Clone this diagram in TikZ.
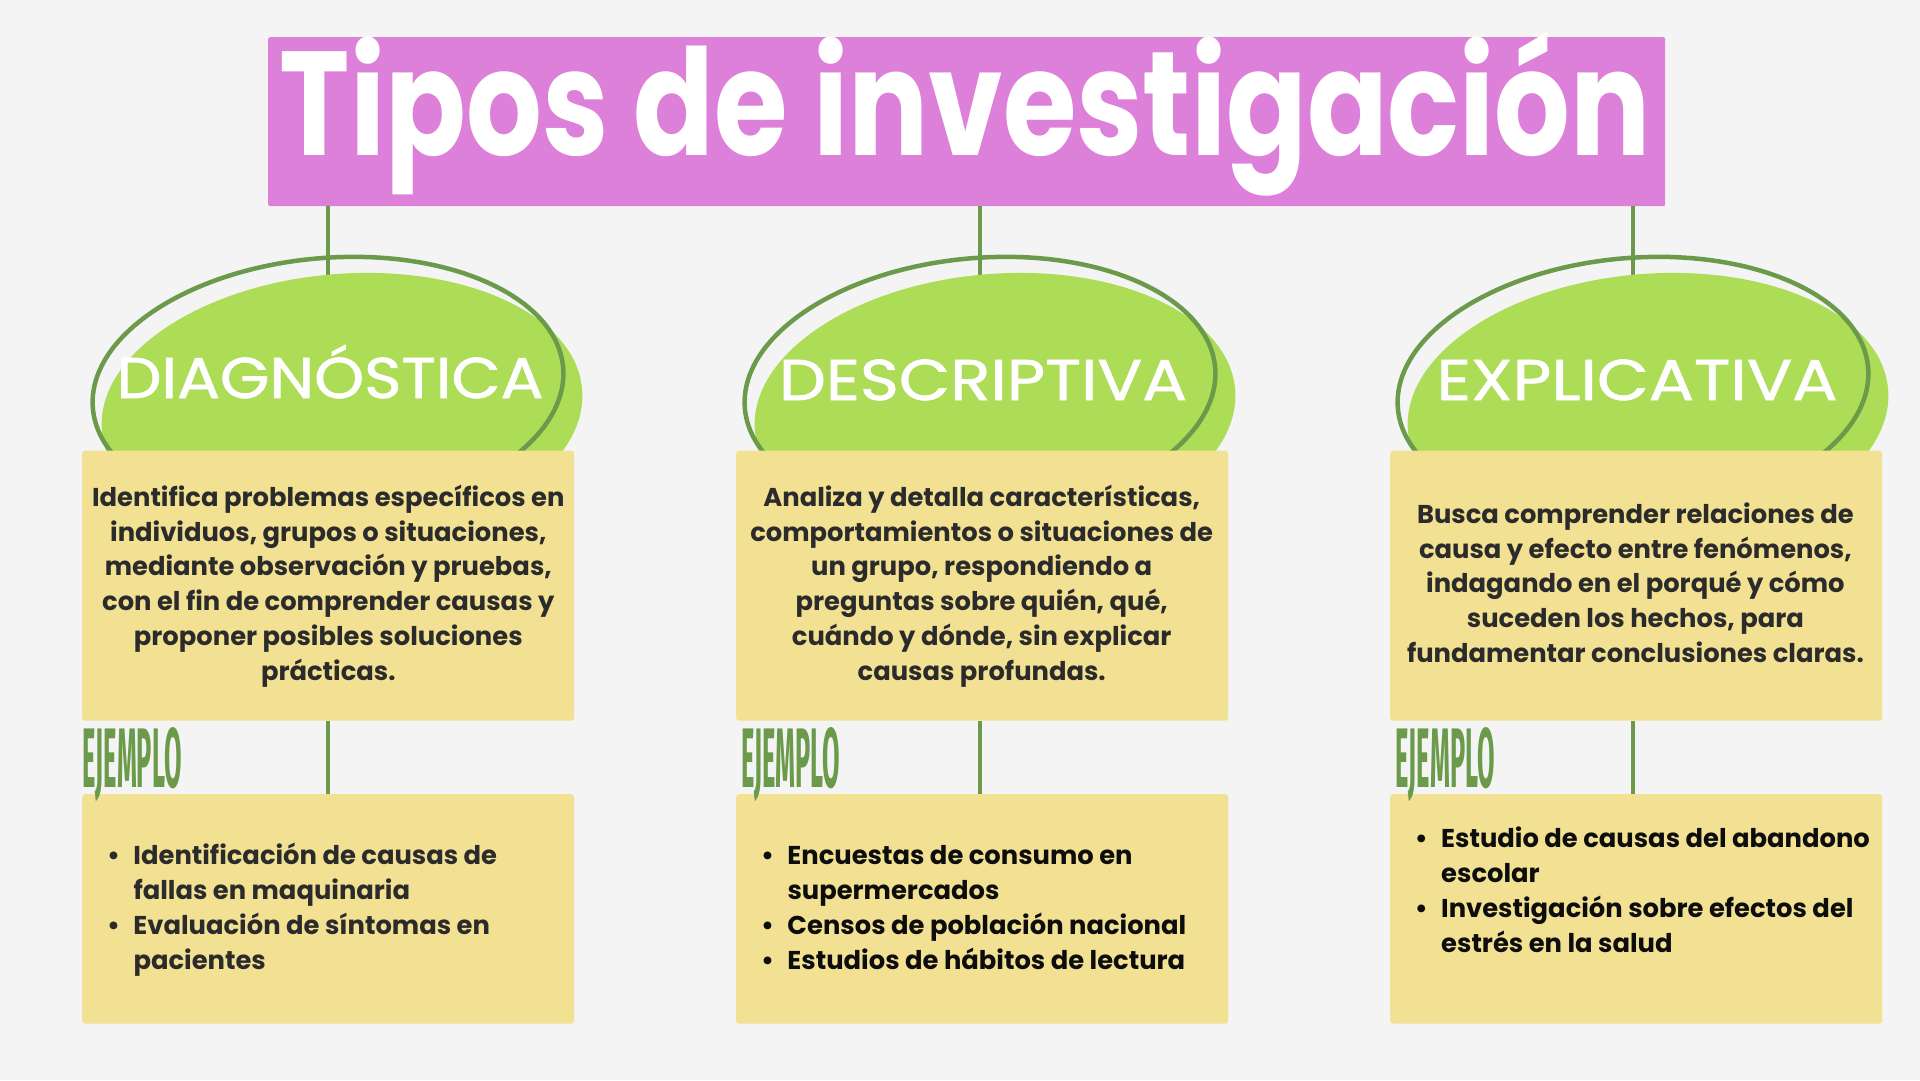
\documentclass[tikz,border=0pt]{standalone}
\usepackage{fontspec}
\setmainfont{Poppins}
\newfontfamily\labfont{Poppins}[FakeBold=1.2]
\newfontfamily\ejfont{Fira Sans}
\usetikzlibrary{shapes.geometric}
\definecolor{bg}{HTML}{F4F4F4}
\definecolor{pinkbox}{HTML}{DD80DA}
\definecolor{lgreen}{HTML}{ADDC57}
\definecolor{dgreen}{HTML}{6A9A4A}
\definecolor{ybox}{HTML}{F2E193}
\definecolor{txtgray}{HTML}{2B2B2B}
\definecolor{txtblack}{HTML}{0D0D0D}
\tikzset{
  conn/.style={draw=dgreen, line width=4.5pt},
  blob/.style={ellipse, fill=lgreen, minimum width=482pt, minimum height=272pt, inner sep=0pt, rotate=5},
  ring/.style={ellipse, draw=dgreen, line width=4.5pt, minimum width=472pt, minimum height=260pt, inner sep=0pt, rotate=5},
  ybx/.style={fill=ybox, rounded corners=3pt, minimum width=492pt, inner sep=0pt},
  lab/.style={text=white, inner sep=0pt, anchor=base},
  body/.style={inner sep=0pt, align=center, anchor=base, font=\bfseries\fontsize{25.8}{34.7}\selectfont},
  blist/.style={inner sep=0pt, align=left, anchor=base west, font=\bfseries\fontsize{25.8}{35}\selectfont},
  ej/.style={text=dgreen, inner sep=0pt, anchor=base west}
}
\newcommand{\bul}{\llap{\makebox[40pt]{•}}}
\begin{document}
\begin{tikzpicture}[x=1pt,y=-1pt]
\useasboundingbox[fill=bg] (0,0) rectangle (1920,1080);
% title
\node[fill=pinkbox, rounded corners=2pt, minimum width=1397pt, minimum height=169pt, inner sep=0pt, anchor=north west] (titlebox) at (268,37) {};
\node[lab] (title) at (965.5,155) {\resizebox{1371pt}{\height}{\fontsize{148}{150}\selectfont\bfseries Tipos de investigación}};
% ellipse centres
\coordinate (c1) at (328,388);
\coordinate (c2) at (980,388);
\coordinate (c3) at (1633,388);
\draw[conn] (titlebox.south -| c1) -- (c1);
\draw[conn] (titlebox.south -| c2) -- (c2);
\draw[conn] (titlebox.south -| c3) -- (c3);
% blobs
\node[blob] (blob1) at (342,410) {};
\node[blob] (blob2) at (995,410) {};
\node[blob] (blob3) at (1648,410) {};
\node[ring] (ring1) at (c1) {};
\node[ring] (ring2) at (c2) {};
\node[ring] (ring3) at (c3) {};
\node[lab] (lab1) at (330,398) {\resizebox{427pt}{\height}{\labfont\fontsize{57.4}{60}\selectfont DIAGNÓSTICA}};
\node[lab] (lab2) at (983,400) {\resizebox{408pt}{\height}{\labfont\fontsize{57.4}{60}\selectfont DESCRIPTIVA}};
\node[lab] (lab3) at (1637,400) {\resizebox{401pt}{\height}{\labfont\fontsize{57.4}{60}\selectfont EXPLICATIVA}};
% upper boxes
\node[ybx, minimum height=270pt, anchor=north west] (d1) at (82,450.5) {};
\node[ybx, minimum height=270pt, anchor=north west] (d2) at (736,450.5) {};
\node[ybx, minimum height=270pt, anchor=north west] (d3) at (1390,450.5) {};
% lower boxes
\node[ybx, minimum height=229.5pt, anchor=north west] (e1) at (82,794) {};
\node[ybx, minimum height=229.5pt, anchor=north west] (e2) at (736,794) {};
\node[ybx, minimum height=229.5pt, anchor=north west] (e3) at (1390,794) {};
\draw[conn] (d1.south -| c1) -- (e1.north -| c1);
\draw[conn] (d2.south -| c2) -- (e2.north -| c2);
\draw[conn] (d3.south -| c3) -- (e3.north -| c3);
% texts (anchor = baseline of last line)
\node[body, text=txtgray] (t1) at (328.3,680) {Identifica problemas específicos en\\individuos, grupos o situaciones,\\mediante observación y pruebas,\\con el fin de comprender causas y\\proponer posibles soluciones\\prácticas.};
\node[body, text=txtgray] (t2) at (981.7,680) {Analiza y detalla características,\\comportamientos o situaciones de\\un grupo, respondiendo a\\preguntas sobre quién, qué,\\cuándo y dónde, sin explicar\\causas profundas.};
\node[body, text=txtgray] (t3) at (1635.4,662.3) {Busca comprender relaciones de\\causa y efecto entre fenómenos,\\indagando en el porqué y cómo\\suceden los hechos, para\\fundamentar conclusiones claras.};
% EJEMPLO
\node[ej] (ej1) at (82.4,787) {\resizebox{99pt}{60pt}{\ejfont\bfseries EJEMPLO}};
\node[ej] (ej2) at (741,787) {\resizebox{99pt}{60pt}{\ejfont\bfseries EJEMPLO}};
\node[ej] (ej3) at (1395.5,787) {\resizebox{99pt}{60pt}{\ejfont\bfseries EJEMPLO}};
% lists
\node[blist, text=txtgray] (l1) at (133.3,969) {\bul Identificación de causas de\\fallas en maquinaria\\\bul Evaluación de síntomas en\\pacientes};
\node[blist, text=txtblack] (l2) at (787.3,969.3) {\bul Encuestas de consumo en\\supermercados\\\bul Censos de población nacional\\\bul Estudios de hábitos de lectura};
\node[blist, text=txtblack] (l3) at (1441,952.3) {\bul Estudio de causas del abandono\\escolar\\\bul Investigación sobre efectos del\\estrés en la salud};
\end{tikzpicture}
\end{document}
